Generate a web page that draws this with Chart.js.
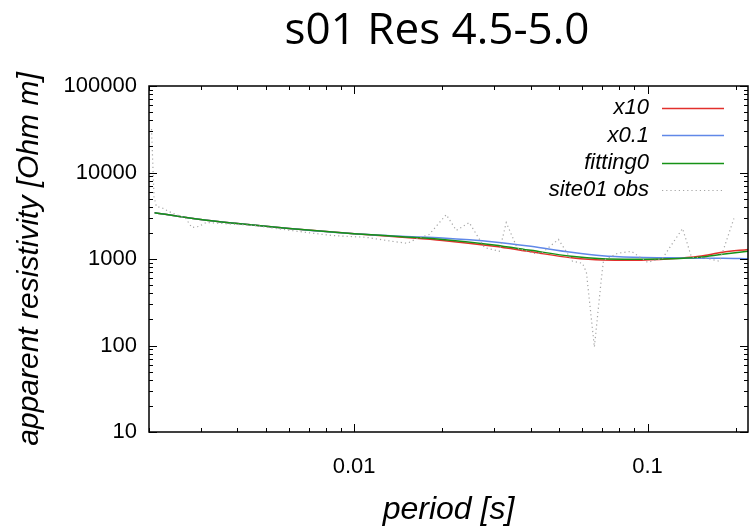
<!DOCTYPE html>
<html>
<head>
<meta charset="utf-8">
<script src="https://cdn.jsdelivr.net/npm/chart.js@4.4.1/dist/chart.umd.min.js"></script>
<style>
  body { margin: 0; background: #fff; }
  #wrap { width: 751px; height: 526px; }
</style>
</head>
<body>
<div id="wrap"><canvas id="resChart" width="751" height="526"></canvas></div>
<script>
// model curves, sampled at these periods [s]
const modelPeriods = [0.00209, 0.003, 0.004, 0.006, 0.01, 0.015, 0.02, 0.03, 0.04, 0.055, 0.07, 0.09, 0.12, 0.15, 0.18, 0.22];
const x10Res      = [3425, 2860, 2570, 2250, 1960, 1776, 1640, 1400, 1210, 1032, 971, 966, 1005, 1074, 1194, 1292];
const x01Res      = [3425, 2860, 2570, 2250, 1960, 1824, 1753, 1577, 1400, 1194, 1088, 1046, 1032, 1019, 1019, 1005];
const fitting0Res = [3425, 2860, 2570, 2250, 1960, 1800, 1685, 1456, 1259, 1074, 1005, 992, 1005, 1046, 1132, 1226];

// observed apparent resistivity at site01
const obsPeriods = [0.00204, 0.00208, 0.00212, 0.00221, 0.00234, 0.00267, 0.00280, 0.00296, 0.00313, 0.0045,
  0.00686, 0.00841, 0.0110, 0.01348, 0.01517, 0.01641, 0.01803, 0.02061, 0.0223, 0.02468,
  0.0278, 0.03126, 0.0330, 0.0360, 0.0411, 0.0435, 0.0497, 0.0555, 0.0600, 0.0619,
  0.0659, 0.0697, 0.0708, 0.0790, 0.0881, 0.100, 0.1125, 0.1316, 0.1413, 0.1589, 0.176, 0.197];
const obsRes = [31800, 5260, 4030, 3930, 3530, 2940, 2310, 2380, 2640, 2450,
  2030, 1870, 1780, 1600, 1520, 1730, 1920, 3260, 2140, 2640,
  1360, 1226, 2640, 1327, 1163, 1163, 1684, 942, 893, 703,
  96, 616, 966, 1163, 1226, 916, 1019, 2250, 1046, 1019, 942, 2940];

const xTickLabels = ['0.01', '0.1'];
const yTickLabels = ['10', '100', '1000', '10000', '100000'];
const xMin = 0.002, xMax = 0.22;
const yMin = 10, yMax = 100000;

const sansFont = "'Liberation Sans', Arial, sans-serif";

function toPoints(xs, ys) {
  return xs.map((x, i) => ({ x: x, y: ys[i] }));
}

function pickLabel(labels, v) {
  const hit = labels.find(l => Math.abs(Number(l) - v) / Number(l) < 1e-6);
  return hit || '';
}

// list of log tick values between min and max (1..9 x 10^n)
function logTickValues(min, max) {
  const out = [];
  for (let e = Math.floor(Math.log10(min)); e <= Math.ceil(Math.log10(max)); e++) {
    for (let m = 1; m <= 9; m++) {
      const v = m * Math.pow(10, e);
      if (v >= min * 0.9999 && v <= max * 1.0001) out.push({ v: v, major: m === 1 });
    }
  }
  return out;
}

// box round the plot with inward ticks on all four sides
const frameTicks = {
  id: 'frameTicks',
  afterDraw(chart) {
    const { ctx, chartArea: a, scales } = chart;
    ctx.save();
    ctx.strokeStyle = '#000';
    ctx.lineWidth = 1;
    ctx.beginPath();
    logTickValues(yMin, yMax).forEach(t => {
      const p = Math.round(scales.y.getPixelForValue(t.v)) + 0.5;
      const len = t.major ? 8 : 4;
      ctx.moveTo(a.left, p); ctx.lineTo(a.left + len, p);
      ctx.moveTo(a.right, p); ctx.lineTo(a.right - len, p);
    });
    logTickValues(xMin, xMax).forEach(t => {
      const p = Math.round(scales.x.getPixelForValue(t.v)) + 0.5;
      const len = t.major ? 8 : 4;
      ctx.moveTo(p, a.bottom); ctx.lineTo(p, a.bottom - len);
      ctx.moveTo(p, a.top); ctx.lineTo(p, a.top + len);
    });
    ctx.stroke();
    ctx.lineWidth = 1.5;
    ctx.strokeRect(a.left, a.top, a.right - a.left, a.bottom - a.top);
    ctx.restore();
  }
};

// legend inside the plot, text on the left of the line sample
const innerLegend = {
  id: 'innerLegend',
  afterDraw(chart) {
    const { ctx } = chart;
    ctx.save();
    ctx.font = 'italic 22px ' + sansFont;
    ctx.textAlign = 'right';
    ctx.textBaseline = 'middle';
    chart.data.datasets.forEach((ds, i) => {
      const y = 108 + i * 27.4;
      ctx.fillStyle = '#000';
      ctx.fillText(ds.label, 649, y);
      ctx.strokeStyle = ds.borderColor;
      ctx.lineWidth = ds.borderWidth;
      ctx.setLineDash(ds.borderDash || []);
      ctx.beginPath();
      ctx.moveTo(662, Math.round(y) + 0.5);
      ctx.lineTo(724, Math.round(y) + 0.5);
      ctx.stroke();
    });
    ctx.restore();
  }
};

const pageTitle = {
  id: 'pageTitle',
  afterDraw(chart) {
    const { ctx } = chart;
    ctx.save();
    ctx.font = "44px 'Open Sans', sans-serif";
    ctx.fillStyle = '#000';
    ctx.textAlign = 'center';
    ctx.textBaseline = 'alphabetic';
    ctx.fillText('s01 Res 4.5-5.0', 437, 44);
    ctx.restore();
  }
};

const ctx = document.getElementById('resChart').getContext('2d');
new Chart(ctx, {
  type: 'line',
  data: {
    datasets: [
      {
        label: 'x10',
        data: toPoints(modelPeriods, x10Res),
        borderColor: 'rgb(226, 48, 44)',
        borderWidth: 1.5,
        cubicInterpolationMode: 'monotone',
        order: 3
      },
      {
        label: 'x0.1',
        data: toPoints(modelPeriods, x01Res),
        borderColor: 'rgb(96, 136, 232)',
        borderWidth: 1.5,
        cubicInterpolationMode: 'monotone',
        order: 2
      },
      {
        label: 'fitting0',
        data: toPoints(modelPeriods, fitting0Res),
        borderColor: 'rgb(22, 146, 22)',
        borderWidth: 1.5,
        cubicInterpolationMode: 'monotone',
        order: 1
      },
      {
        label: 'site01 obs',
        data: toPoints(obsPeriods, obsRes),
        borderColor: 'rgb(165, 165, 165)',
        borderWidth: 1.2,
        borderDash: [1.2, 3],
        tension: 0,
        order: 0
      }
    ]
  },
  options: {
    responsive: false,
    animation: false,
    elements: { point: { radius: 0 } },
    layout: { padding: { top: 86, right: 3, left: 0, bottom: 0 } },
    plugins: {
      legend: { display: false },
      title: { display: false },
      tooltip: { enabled: false }
    },
    scales: {
      x: {
        type: 'logarithmic',
        min: xMin,
        max: xMax,
        grid: { display: false, drawTicks: false },
        border: { display: false },
        ticks: {
          autoSkip: false,
          maxRotation: 0,
          padding: 22,
          color: '#000',
          font: { family: sansFont, size: 22 },
          callback: v => pickLabel(xTickLabels, v)
        },
        title: {
          display: true,
          text: 'period [s]',
          color: '#000',
          font: { family: sansFont, size: 32, style: 'italic', lineHeight: 1 },
          padding: { top: 0, bottom: 0 }
        },
        afterFit: s => {
          s.height = 94;
          s.paddingLeft = 0;
          s.paddingRight = 0;
        }
      },
      y: {
        type: 'logarithmic',
        min: yMin,
        max: yMax,
        grid: { display: false, drawTicks: false },
        border: { display: false },
        ticks: {
          autoSkip: false,
          padding: 12,
          color: '#000',
          font: { family: sansFont, size: 22 },
          callback: v => pickLabel(yTickLabels, v)
        },
        title: {
          display: true,
          text: 'apparent resistivity [Ohm m]',
          color: '#000',
          font: { family: sansFont, size: 30, style: 'italic' },
          padding: { top: 12, bottom: 0 }
        },
        afterFit: s => {
          s.width = 149;
          s.paddingTop = 0;
          s.paddingBottom = 0;
        }
      }
    }
  },
  plugins: [frameTicks, innerLegend, pageTitle]
});
</script>
</body>
</html>
